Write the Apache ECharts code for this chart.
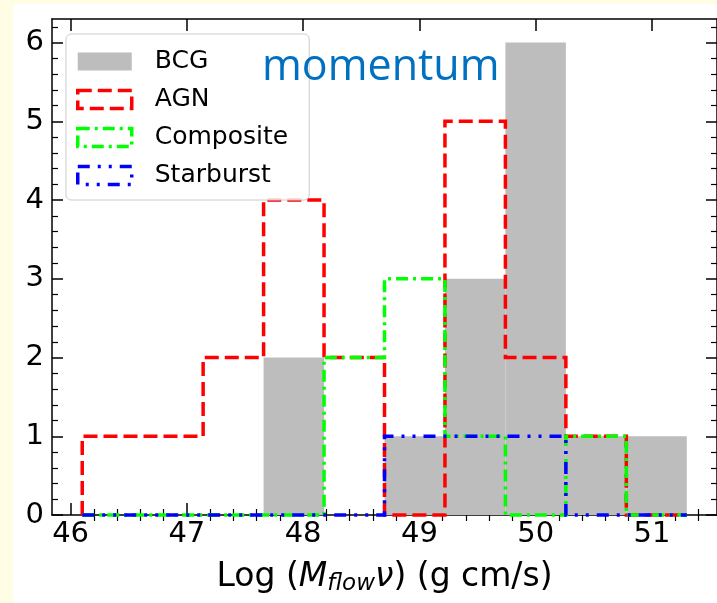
<!DOCTYPE html>
<html>
<head>
<meta charset="utf-8">
<script src="https://cdn.jsdelivr.net/npm/echarts@6/dist/echarts.min.js"></script>
<style>
  html, body { margin: 0; padding: 0; background: #fffde3; width: 717px; height: 603px; overflow: hidden; }
  #chart { position: absolute; left: 13px; top: 4px; width: 704px; height: 599px; background: #ffffff; }
</style>
</head>
<body>
<div id="chart"></div>
<script>
// Histogram bin edges (log momentum flux, g cm/s) and counts per sample
const binEdges = [46.10, 46.62, 47.14, 47.66, 48.18, 48.70, 49.22, 49.74, 50.26, 50.78, 51.30];
const bcgCounts = [0, 0, 0, 2, 0, 1, 3, 6, 1, 1];
const agnCounts = [1, 1, 2, 4, 2, 0, 5, 2, 1, 0];
const compositeCounts = [0, 0, 0, 0, 2, 3, 1, 0, 1, 0];
const starburstCounts = [0, 0, 0, 0, 0, 1, 1, 1, 0, 0];
const seriesNames = ['BCG', 'AGN', 'Composite', 'Starburst'];
const xTickLabels = [46, 47, 48, 49, 50, 51];
const yTickLabels = [0, 1, 2, 3, 4, 5, 6];
const xRange = [45.84, 51.56];
const yRange = [0, 6.3];

const FONT = 'DejaVu Sans';
const lineColors = { AGN: '#ff0000', Composite: '#00ff00', Starburst: '#0000ff' };
const lineDashes = { AGN: [14, 6], Composite: [12, 5, 3, 5], Starburst: [12, 8, 3, 8, 3, 8] };
const barColor = '#bdbdbd';
const LW = 3.5;

// Minor tick positions every 0.2 between the labelled ticks
function minorTicks(lo, hi) {
  const out = [];
  for (let k = Math.ceil(lo * 5); k <= Math.floor(hi * 5); k++) {
    if (k % 5 !== 0) out.push(Math.round(k * 20) / 100);
  }
  return out;
}
const xMinor = minorTicks(xRange[0], xRange[1]);
const yMinor = minorTicks(yRange[0], yRange[1]);

// Outline path of a step histogram, drawn as one continuous polyline
function stepRenderer(counts, color, dash) {
  return function (params, api) {
    if (params.dataIndex !== 0) return null;
    const pts = [api.coord([binEdges[0], 0])];
    for (let i = 0; i < counts.length; i++) {
      pts.push(api.coord([binEdges[i], counts[i]]));
      pts.push(api.coord([binEdges[i + 1], counts[i]]));
    }
    pts.push(api.coord([binEdges[binEdges.length - 1], 0]));
    return {
      type: 'polyline',
      shape: { points: pts },
      style: { fill: 'none', stroke: color, lineWidth: LW, lineDash: dash, lineCap: 'butt', lineJoin: 'miter' }
    };
  };
}

function stepSeries(name, counts) {
  return {
    name: name,
    type: 'custom',
    xAxisIndex: 0,
    yAxisIndex: 0,
    color: lineColors[name],
    silent: true,
    z: 3,
    data: [[binEdges[0], 0]],
    encode: { x: 0, y: 1 },
    renderItem: stepRenderer(counts, lineColors[name], lineDashes[name])
  };
}

const bcgData = bcgCounts.map((c, i) => [binEdges[i], binEdges[i + 1], c]);

const spine = { show: true, onZero: false, lineStyle: { color: '#000', width: 1.5 } };
function majorAxisX(pos, withLabels) {
  return {
    type: 'value', gridIndex: 0, position: pos, min: xRange[0], max: xRange[1],
    axisLine: spine,
    axisTick: { show: true, inside: true, length: 12, customValues: xTickLabels, lineStyle: { color: '#000', width: 1.5 } },
    axisLabel: withLabels
      ? { show: true, customValues: xTickLabels, margin: 5, fontFamily: FONT, fontSize: 29, color: '#000' }
      : { show: false },
    splitLine: { show: false }
  };
}
function minorAxisX(pos) {
  return {
    type: 'value', gridIndex: 1, position: pos, min: xRange[0], max: xRange[1],
    axisLine: { show: false },
    axisTick: { show: true, inside: true, length: 6, customValues: xMinor, lineStyle: { color: '#000', width: 1.2 } },
    axisLabel: { show: false },
    splitLine: { show: false }
  };
}
function majorAxisY(pos, withLabels) {
  return {
    type: 'value', gridIndex: 0, position: pos, min: yRange[0], max: yRange[1],
    axisLine: spine,
    axisTick: { show: true, inside: true, length: 11, customValues: yTickLabels, lineStyle: { color: '#000', width: 1.5 } },
    axisLabel: withLabels
      ? { show: true, customValues: yTickLabels, margin: 8, fontFamily: FONT, fontSize: 29, color: '#000' }
      : { show: false },
    splitLine: { show: false }
  };
}
function minorAxisY(pos) {
  return {
    type: 'value', gridIndex: 1, position: pos, min: yRange[0], max: yRange[1],
    axisLine: { show: false },
    axisTick: { show: true, inside: true, length: 6, customValues: yMinor, lineStyle: { color: '#000', width: 1.2 } },
    axisLabel: { show: false },
    splitLine: { show: false }
  };
}

const xMain = majorAxisX('bottom', true);
xMain.name = 'Log ({i|M}{s|flow}{i|ν}) (g cm/s)';
xMain.nameLocation = 'middle';
xMain.nameGap = 43;
xMain.nameTextStyle = {
  fontFamily: FONT, fontSize: 33, color: '#000', lineHeight: 38,
  rich: {
    i: { fontFamily: FONT, fontSize: 33, fontStyle: 'italic', color: '#000', lineHeight: 38 },
    s: { fontFamily: FONT, fontSize: 23, fontStyle: 'italic', color: '#000', lineHeight: 23, verticalAlign: 'bottom' }
  }
};

const gridBox = { left: 39, top: 15, right: -4, bottom: 88, containLabel: false };

const legendItem = (name) => name === 'BCG'
  ? { name: name, icon: 'rect', itemStyle: { color: barColor, borderWidth: 0 } }
  : { name: name, icon: 'rect', itemStyle: { color: 'rgba(0,0,0,0)', borderColor: lineColors[name], borderWidth: LW, borderType: lineDashes[name] } };

const option = {
  animation: false,
  backgroundColor: '#ffffff',
  grid: [Object.assign({}, gridBox), Object.assign({}, gridBox)],
  xAxis: [xMain, majorAxisX('top', false), minorAxisX('bottom'), minorAxisX('top')],
  yAxis: [majorAxisY('left', true), majorAxisY('right', false), minorAxisY('left'), minorAxisY('right')],
  legend: {
    orient: 'vertical',
    left: 53,
    top: 30,
    padding: [15, 21, 12, 10],
    itemWidth: 54,
    itemHeight: 18,
    itemGap: 13,
    selectedMode: false,
    backgroundColor: 'rgba(255,255,255,0.8)',
    borderColor: '#cccccc',
    borderWidth: 1,
    borderRadius: 5,
    textStyle: { fontFamily: FONT, fontSize: 25, color: '#000', lineHeight: 18, padding: [0, 0, 0, 18] },
    data: seriesNames.map(legendItem),
    z: 4
  },
  graphic: [{
    type: 'text',
    left: 249,
    top: 42,
    z: 10,
    style: { text: 'momentum', fontFamily: 'Open Sans', fontSize: 43, fill: '#0070c0' }
  }],
  series: [
    {
      name: 'BCG',
      type: 'custom',
      xAxisIndex: 0,
      yAxisIndex: 0,
      color: barColor,
      silent: true,
      z: 2,
      data: bcgData,
      encode: { x: [0, 1], y: 2 },
      renderItem: function (params, api) {
        const p0 = api.coord([api.value(0), api.value(2)]);
        const p1 = api.coord([api.value(1), 0]);
        return {
          type: 'rect',
          shape: { x: p0[0], y: p0[1], width: p1[0] - p0[0], height: p1[1] - p0[1] },
          style: { fill: barColor }
        };
      }
    },
    stepSeries('AGN', agnCounts),
    stepSeries('Composite', compositeCounts),
    stepSeries('Starburst', starburstCounts)
  ]
};

const chart = echarts.init(document.getElementById('chart'), null, { renderer: 'canvas' });
chart.setOption(option);
</script>
</body>
</html>
